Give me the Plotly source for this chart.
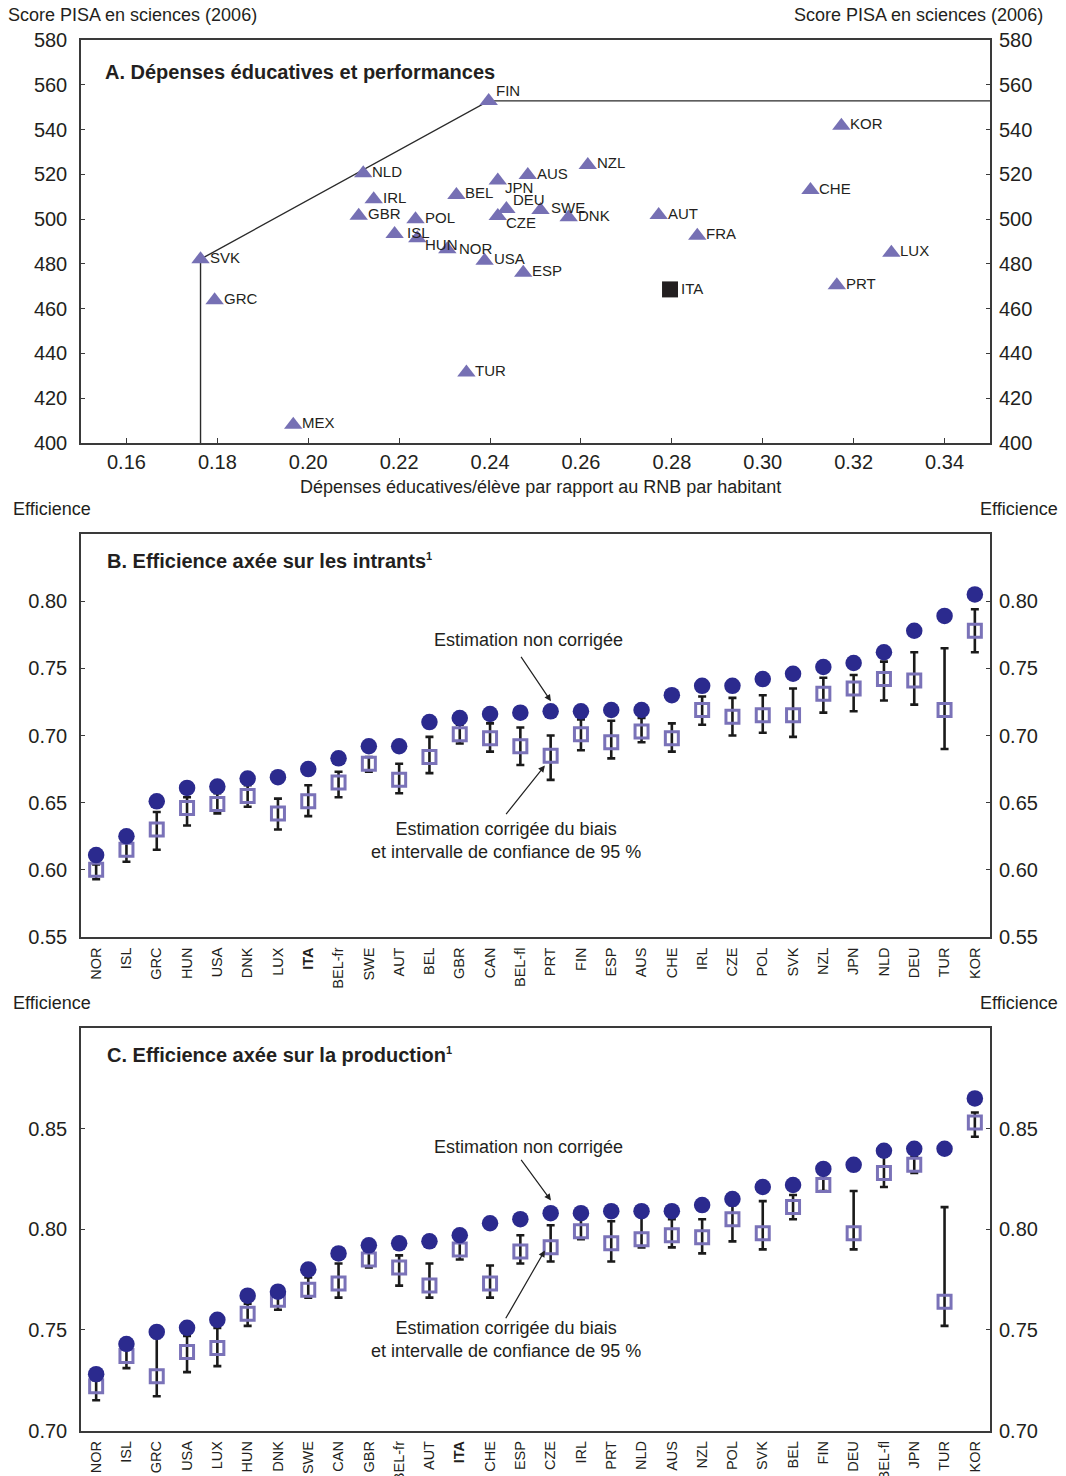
import plotly.graph_objects as go

# ---------------- Panel A : dépenses éducatives et score PISA ----------------
pays_a = ["FIN", "NLD", "IRL", "GBR", "POL", "ISL", "HUN", "NOR", "USA", "ESP",
          "BEL", "JPN", "AUS", "DEU", "CZE", "SWE", "SVK", "GRC", "TUR", "MEX",
          "NZL", "DNK", "AUT", "FRA", "KOR", "CHE", "LUX", "PRT", "ITA"]
depenses = [0.2397, 0.2121, 0.2144, 0.2111, 0.2236, 0.2190, 0.2240, 0.2306, 0.2388, 0.2473,
            0.2326, 0.2417, 0.2483, 0.2436, 0.2417, 0.2511, 0.1763, 0.1794, 0.2348, 0.1967,
            0.2615, 0.2573, 0.2771, 0.2856, 0.3173, 0.3105, 0.3283, 0.3163, 0.2796]
score = [552.8, 520.5, 508.9, 501.5, 499.9, 493.3, 491.4, 486.5, 481.4, 476.0,
         510.8, 517.2, 519.7, 504.5, 501.4, 504.1, 482.1, 463.8, 431.5, 408.2,
         524.2, 500.8, 501.8, 492.6, 541.7, 513.0, 485.0, 470.5, 468.6]
a_xticks = [0.16, 0.18, 0.20, 0.22, 0.24, 0.26, 0.28, 0.30, 0.32, 0.34]
a_yticks = [400, 420, 440, 460, 480, 500, 520, 540, 560, 580]

# ---------------- Panel B : efficience axée sur les intrants ----------------
pays_b = ["NOR", "ISL", "GRC", "HUN", "USA", "DNK", "LUX", "ITA", "BEL-fr", "SWE",
          "AUT", "BEL", "GBR", "CAN", "BEL-fl", "PRT", "FIN", "ESP", "AUS", "CHE",
          "IRL", "CZE", "POL", "SVK", "NZL", "JPN", "NLD", "DEU", "TUR", "KOR"]
b_brut = [0.611, 0.625, 0.651, 0.661, 0.662, 0.668, 0.669, 0.675, 0.683, 0.692,
          0.692, 0.710, 0.713, 0.716, 0.717, 0.718, 0.718, 0.719, 0.719, 0.730,
          0.737, 0.737, 0.742, 0.746, 0.751, 0.754, 0.762, 0.778, 0.789, 0.805]
b_corr = [0.600, 0.615, 0.630, 0.646, 0.649, 0.655, 0.642, 0.651, 0.665, 0.679,
          0.667, 0.684, 0.701, 0.698, 0.692, 0.685, 0.701, 0.695, 0.703, 0.698,
          0.719, 0.714, 0.715, 0.715, 0.731, 0.735, 0.742, 0.741, 0.719, 0.778]
b_haut = [0.604, 0.621, 0.643, 0.654, 0.657, 0.663, 0.653, 0.663, 0.673, 0.684,
          0.679, 0.699, 0.708, 0.709, 0.706, 0.700, 0.712, 0.711, 0.713, 0.709,
          0.729, 0.728, 0.730, 0.735, 0.743, 0.745, 0.755, 0.762, 0.765, 0.794]
b_bas = [0.593, 0.606, 0.615, 0.633, 0.642, 0.647, 0.630, 0.640, 0.654, 0.673,
         0.657, 0.672, 0.694, 0.688, 0.678, 0.667, 0.689, 0.683, 0.695, 0.688,
         0.708, 0.700, 0.702, 0.699, 0.717, 0.718, 0.726, 0.723, 0.690, 0.762]
b_yticks = [0.55, 0.60, 0.65, 0.70, 0.75, 0.80]

# ---------------- Panel C : efficience axée sur la production ----------------
pays_c = ["NOR", "ISL", "GRC", "USA", "LUX", "HUN", "DNK", "SWE", "CAN", "GBR",
          "BEL-fr", "AUT", "ITA", "CHE", "ESP", "CZE", "IRL", "PRT", "NLD", "AUS",
          "NZL", "POL", "SVK", "BEL", "FIN", "DEU", "BEL-fl", "JPN", "TUR", "KOR"]
c_brut = [0.728, 0.743, 0.749, 0.751, 0.755, 0.767, 0.769, 0.780, 0.788, 0.792,
          0.793, 0.794, 0.797, 0.803, 0.805, 0.808, 0.808, 0.809, 0.809, 0.809,
          0.812, 0.815, 0.821, 0.822, 0.830, 0.832, 0.839, 0.840, 0.840, 0.865]
c_corr = [0.722, 0.737, 0.727, 0.739, 0.741, 0.758, 0.765, 0.770, 0.773, 0.785,
          0.781, 0.772, 0.790, 0.773, 0.789, 0.791, 0.799, 0.793, 0.795, 0.797,
          0.796, 0.805, 0.798, 0.811, 0.822, 0.798, 0.828, 0.832, 0.764, 0.853]
c_haut = [0.725, 0.741, 0.746, 0.747, 0.751, 0.763, 0.768, 0.776, 0.783, 0.789,
          0.787, 0.783, 0.795, 0.782, 0.797, 0.802, 0.806, 0.804, 0.807, 0.805,
          0.805, 0.812, 0.814, 0.817, 0.827, 0.819, 0.836, 0.836, 0.811, 0.858]
c_bas = [0.715, 0.731, 0.717, 0.729, 0.732, 0.752, 0.760, 0.766, 0.766, 0.781,
         0.772, 0.766, 0.785, 0.766, 0.783, 0.784, 0.795, 0.784, 0.791, 0.791,
         0.788, 0.794, 0.790, 0.805, 0.819, 0.790, 0.821, 0.828, 0.752, 0.846]
c_yticks = [0.70, 0.75, 0.80, 0.85]

# ---------------- style ----------------
W, H = 1066, 1476
FONT = "Liberation Sans, Arial, sans-serif"
INK = "#231F20"
FRAME = "#3a3a3a"
NAVY = "#2B2A8E"
LAVENDER = "#7A72B8"
TRIANGLE = "#7670B4"


def px_x(p):
    return p / W


def px_y(p):
    return 1 - p / H


X_DOM = [px_x(81), px_x(990)]
A_DOM = [px_y(443), px_y(40)]
B_DOM = [px_y(937), px_y(534)]
C_DOM = [px_y(1430.5), px_y(1028)]

fig = go.Figure()

# ---- Panel A
i_svk, i_fin = pays_a.index("SVK"), pays_a.index("FIN")
front_x = [depenses[i_svk], depenses[i_svk], depenses[i_fin], 0.35]
front_y = [400, score[i_svk], score[i_fin], score[i_fin]]
fig.add_trace(go.Scatter(x=front_x, y=front_y, mode="lines",
                         line=dict(color="#2a2a2a", width=1.4),
                         xaxis="x", yaxis="y", hoverinfo="skip", showlegend=False))

tri_x = [x for x, c in zip(depenses, pays_a) if c != "ITA"]
tri_y = [y for y, c in zip(score, pays_a) if c != "ITA"]
fig.add_trace(go.Scatter(x=tri_x, y=tri_y, mode="markers",
                         marker=dict(symbol="triangle-up", size=16, color=TRIANGLE,
                                     line=dict(width=0)),
                         xaxis="x", yaxis="y", showlegend=False))
i_ita = pays_a.index("ITA")
fig.add_trace(go.Scatter(x=[depenses[i_ita]], y=[score[i_ita]], mode="markers",
                         marker=dict(symbol="square", size=16, color=INK, line=dict(width=0)),
                         xaxis="x", yaxis="y", showlegend=False))
fig.add_trace(go.Scatter(x=[None], y=[None], xaxis="x", yaxis="y2",
                         showlegend=False, hoverinfo="skip"))

# label offsets (pixels) for crowded country codes
label_shift = {"FIN": (5, 10), "JPN": (5, -7), "DEU": (5, 10), "CZE": (6, -7),
               "HUN": (6, -6), "NOR": (10, 1), "ISL": (10, 2), "SWE": (8, 2),
               "ITA": (9, 1)}
annotations = []
for c, x, y in zip(pays_a, depenses, score):
    dx, dy = label_shift.get(c, (7, 2))
    annotations.append(dict(x=x, y=y, xref="x", yref="y", text=c, showarrow=False,
                            xanchor="left", yanchor="middle", xshift=dx, yshift=dy,
                            font=dict(size=15, color=INK, family=FONT)))


# ---- Panels B and C
def add_efficiency(cats, brut, corr, haut, bas, xa, ya, ya_right):
    fig.add_trace(go.Scatter(
        x=cats, y=corr, mode="markers",
        marker=dict(symbol="square-open", size=13, color=LAVENDER, line=dict(width=3)),
        error_y=dict(type="data", symmetric=False,
                     array=[h - v for h, v in zip(haut, corr)],
                     arrayminus=[v - b for v, b in zip(corr, bas)],
                     color="#1a1a1a", thickness=2.6, width=4),
        xaxis=xa, yaxis=ya, showlegend=False))
    fig.add_trace(go.Scatter(
        x=cats, y=brut, mode="markers",
        marker=dict(symbol="circle", size=16.5, color=NAVY, line=dict(width=0)),
        xaxis=xa, yaxis=ya, showlegend=False))
    fig.add_trace(go.Scatter(x=[None], y=[None], xaxis=xa, yaxis=ya_right,
                             showlegend=False, hoverinfo="skip"))


add_efficiency(pays_b, b_brut, b_corr, b_haut, b_bas, "x2", "y3", "y4")
add_efficiency(pays_c, c_brut, c_corr, c_haut, c_bas, "x3", "y5", "y6")

tick_font = dict(size=20, color=INK, family=FONT)
cat_font = dict(size=14.5, color=INK, family=FONT)


def y_axis(dom, rng, vals, fmt, anchor, side="left", overlay=None):
    ax = dict(domain=dom, range=rng, tickvals=vals, tickformat=fmt, anchor=anchor,
              side=side, ticks="inside", ticklen=4, tickwidth=1, tickcolor=FRAME,
              showgrid=False, zeroline=False, tickfont=tick_font, automargin=False,
              ticklabelstandoff=8, fixedrange=True)
    if overlay:
        ax.update(overlaying=overlay, showline=False)
    else:
        ax.update(showline=True, linecolor=FRAME, linewidth=1.5, mirror=True)
    return ax


def cat_axis(cats, anchor):
    return dict(domain=X_DOM, type="category", range=[-0.5, len(cats) - 0.5],
                anchor=anchor, tickmode="array", tickvals=cats,
                ticktext=[f"<b>{c}</b>" if c == "ITA" else c for c in cats],
                tickangle=-90, ticks="", showgrid=False, zeroline=False,
                showline=True, linecolor=FRAME, linewidth=1.5, mirror=True,
                tickfont=cat_font, ticklabelstandoff=3, automargin=False)


fig.update_layout(
    width=W, height=H, autosize=False,
    margin=dict(l=0, r=0, t=0, b=0, autoexpand=False),
    paper_bgcolor="white", plot_bgcolor="white",
    font=dict(family=FONT, color=INK),
    xaxis=dict(domain=X_DOM, range=[0.15, 0.35], tickvals=a_xticks, tickformat=".2f",
               anchor="y", ticks="inside", ticklen=5, tickcolor=FRAME, showgrid=False,
               zeroline=False, showline=True, linecolor=FRAME, linewidth=1.5, mirror=True,
               tickfont=tick_font, ticklabelstandoff=0, fixedrange=True, automargin=False),
    yaxis=y_axis(A_DOM, [400, 580], a_yticks, "d", "x"),
    yaxis2=y_axis(A_DOM, [400, 580], a_yticks, "d", "x", side="right", overlay="y"),
    xaxis2=cat_axis(pays_b, "y3"),
    yaxis3=y_axis(B_DOM, [0.55, 0.85], b_yticks, ".2f", "x2"),
    yaxis4=y_axis(B_DOM, [0.55, 0.85], b_yticks, ".2f", "x2", side="right", overlay="y3"),
    xaxis3=cat_axis(pays_c, "y5"),
    yaxis5=y_axis(C_DOM, [0.70, 0.90], c_yticks, ".2f", "x3"),
    yaxis6=y_axis(C_DOM, [0.70, 0.90], c_yticks, ".2f", "x3", side="right", overlay="y5"),
)


def paper_text(text, x, y, xanchor="left", size=18, bold=False, align="left"):
    annotations.append(dict(x=px_x(x), y=px_y(y), xref="paper", yref="paper",
                            text=f"<b>{text}</b>" if bold else text, showarrow=False,
                            xanchor=xanchor, yanchor="middle", align=align,
                            font=dict(size=size, color=INK, family=FONT)))


SUP1 = "<sup><span style='font-size:11px'>1</span></sup>"

# headers and axis captions
paper_text("Score PISA en sciences (2006)", 6, 15)
paper_text("Score PISA en sciences (2006)", 1045, 15, xanchor="right")
paper_text("A. Dépenses éducatives et performances", 103, 72, size=20, bold=True)
paper_text("Dépenses éducatives/élève par rapport au RNB par habitant", 540, 487,
           xanchor="center")
paper_text("Efficience", 11, 509)
paper_text("Efficience", 1060, 509, xanchor="right")
paper_text("B. Efficience axée sur les intrants" + SUP1, 105, 561, size=20, bold=True)
paper_text("Efficience", 11, 1003)
paper_text("Efficience", 1060, 1003, xanchor="right")
paper_text("C. Efficience axée sur la production" + SUP1, 105, 1055, size=20, bold=True)

# explanatory notes with arrows
for xa, ya, y_note1, y_note2, arr1, arr2 in [
    ("x2", "y3", 640, 840, ((15.01, 0.7255), (13.99, 0.7596)), ((14.81, 0.6777), (13.49, 0.6404))),
    ("x3", "y5", 1147, 1339.5, ((15.01, 0.8143), (13.99, 0.8352)), ((14.81, 0.7895), (13.49, 0.7550))),
]:
    paper_text("Estimation non corrigée", 528, y_note1, xanchor="center")
    paper_text("Estimation corrigée du biais<br>et intervalle de confiance de 95 %",
               506, y_note2, xanchor="center", align="center")
    for (hx, hy), (tx, ty) in (arr1, arr2):
        annotations.append(dict(x=hx, y=hy, xref=xa, yref=ya, ax=tx, ay=ty,
                                axref=xa, ayref=ya, text="", showarrow=True,
                                arrowhead=2, arrowsize=1.1, arrowwidth=1.2,
                                arrowcolor="#222222", standoff=0))

fig.update_layout(annotations=annotations)
fig.write_html("out.html")
